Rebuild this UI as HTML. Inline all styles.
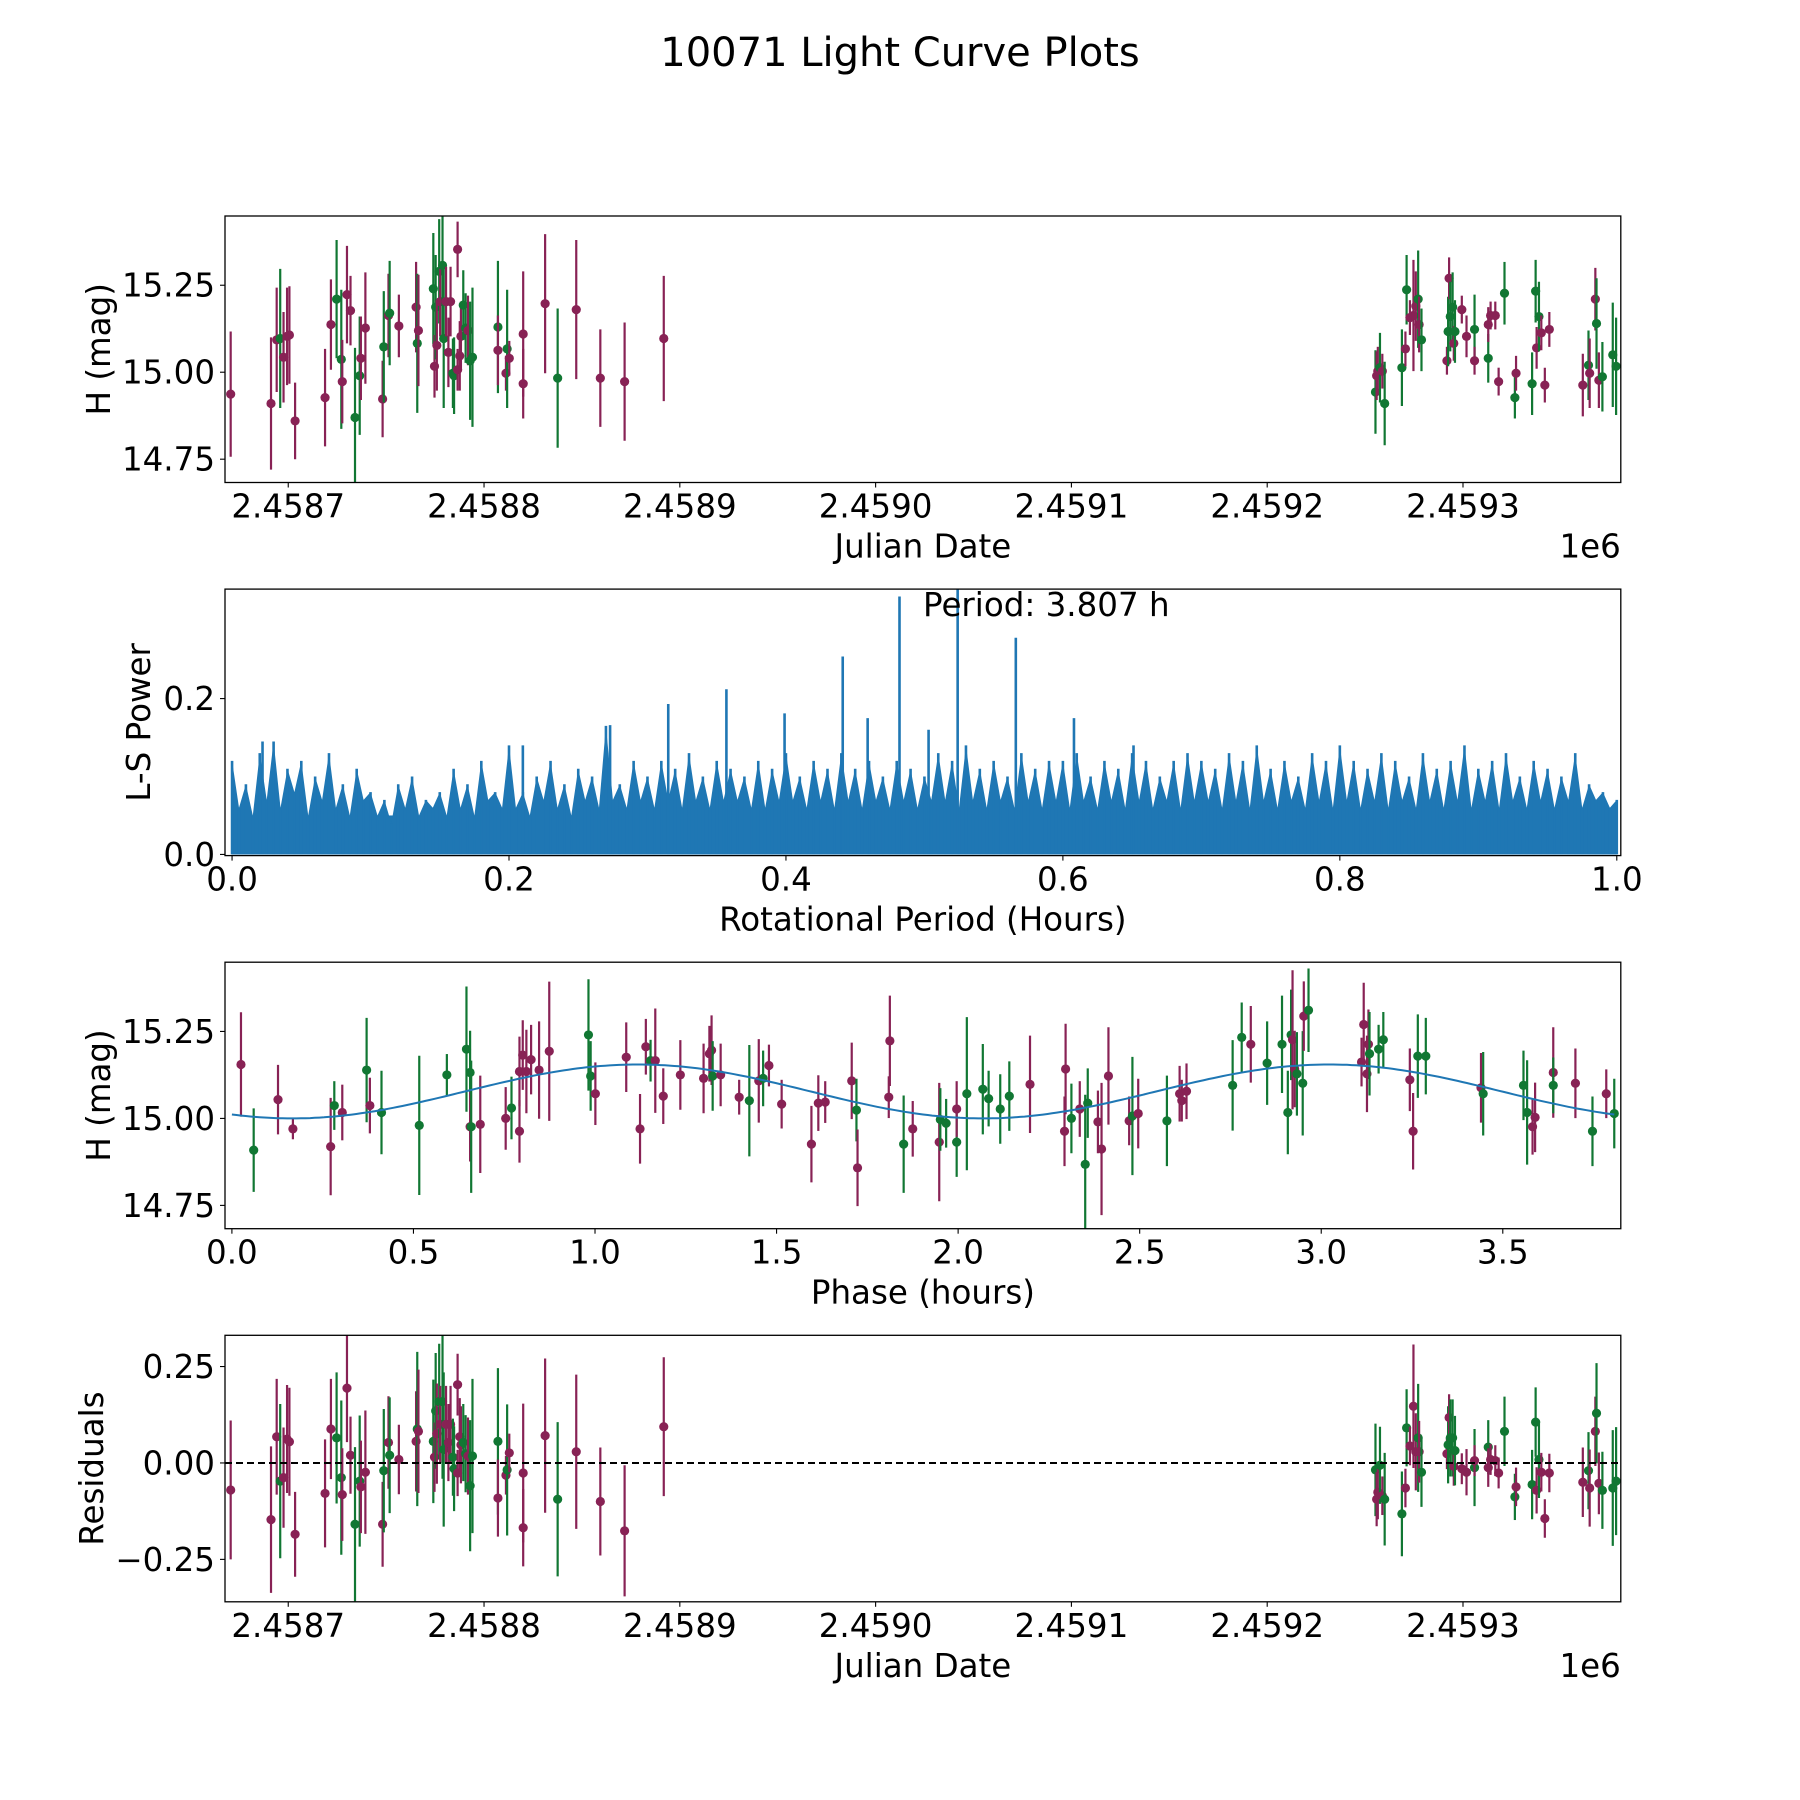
<!DOCTYPE html>
<html><head><meta charset="utf-8"><title>10071 Light Curve Plots</title>
<style>
html,body{margin:0;padding:0;background:#fff;}
svg{display:block;font-family:"DejaVu Sans","Liberation Sans",sans-serif;}
</style></head>
<body>
<svg id="fig" width="1800" height="1800" viewBox="0 0 1800 1800" xmlns="http://www.w3.org/2000/svg">
<rect x="0" y="0" width="1800" height="1800" fill="#fff"/>
<text x="900" y="66" font-size="40" text-anchor="middle" fill="#000">10071 Light Curve Plots</text>
</svg>
<script>
// ---------- data ----------
const JD_BASE = 2458700;
const jdOffset = [
-29.4,-8.8,-5.9,-4.1,-2.4,-0.6,0.6,3.5,18.8,21.8,
24.7,27.1,27.6,30,31.8,34.1,36.5,37.1,39.4,48.2,
48.8,51.2,51.8,56.5,65.3,65.9,66.5,74.1,74.7,75.3,
75.9,77.1,77.6,78.8,79.4,80.6,81.8,82.9,84.1,84.7,
86.5,86.5,87.6,88.2,89.4,90.6,91.8,92.9,94.1,107.1,
107.1,111.2,111.8,112.9,120,120,131.2,137.6,147.1,159.4,
171.8,191.8,555.3,555.9,556.5,557.6,558.8,560,568.8,570.6,
571.2,572.9,574.7,575.9,577.1,577.6,578.8,591.8,592.4,592.9,
593.5,594.7,595.3,595.9,599.4,601.8,605.9,605.9,612.9,612.9,
614.1,616.5,618.2,621.2,626.5,627.1,635.3,637.1,637.6,638.8,
640,641.8,644.1,661.2,664.1,664.7,667.6,668.2,669.4,671.2,
676.5,678.2];
const magH = [
14.937,14.91,15.093,15.097,15.043,15.103,15.107,14.86,14.927,15.137,
15.21,15.037,14.973,15.223,15.177,14.87,14.99,15.04,15.127,14.923,
15.073,15.163,15.17,15.133,15.187,15.083,15.12,15.24,15.017,15.187,
15.077,15.29,15.203,15.307,15.097,15.203,15.057,15.203,14.997,14.99,
15.353,15.007,15.047,15.103,15.193,15.127,15.12,15.033,15.043,15.13,
15.063,14.997,15.067,15.04,14.967,15.11,15.197,14.983,15.18,14.983,
14.973,15.097,14.943,14.99,15.003,15.013,15.003,14.91,15.013,15.067,
15.237,15.157,15.163,15.19,15.21,15.137,15.093,15.033,15.117,15.27,
15.16,15.187,15.083,15.117,15.18,15.103,15.123,15.033,15.04,15.137,
15.163,15.163,14.973,15.227,14.927,14.997,14.967,15.233,15.07,15.16,
15.113,14.963,15.123,14.963,15.02,14.997,15.21,15.14,14.977,14.987,
15.05,15.017];
const residuals = [
-0.07,-0.147,0.068,-0.047,-0.038,0.062,0.055,-0.185,-0.079,0.088,
0.065,-0.038,-0.082,0.194,0.02,-0.159,-0.047,-0.062,-0.024,-0.159,
-0.02,0.053,0.02,0.009,0.056,0.088,0.082,0.056,0.015,0.135,
0.076,0.159,0.1,0.159,0.035,0.1,0.053,0.1,0.015,-0.015,
0.203,-0.026,0.068,0.047,0.053,0.024,0.018,-0.059,0.018,0.056,
-0.091,-0.032,-0.018,0.026,-0.168,-0.026,0.071,-0.094,0.029,-0.1,
-0.176,0.094,-0.018,-0.094,-0.076,-0.006,-0.085,-0.094,-0.132,-0.065,
0.091,0.044,0.147,0.029,0.065,0.029,-0.024,0.024,0.047,0.118,
0.065,0.065,-0.009,0.032,-0.015,-0.024,-0.012,0.006,0.041,-0.012,
0.009,0.006,-0.026,0.082,-0.088,-0.062,-0.056,0.106,-0.071,0.009,
-0.024,-0.144,-0.026,-0.05,-0.02,-0.065,0.082,0.129,-0.053,-0.071,
-0.065,-0.047];
const magErr = [
.18,.19,.15,.2,.13,.14,.14,.11,.14,.13,
.17,.2,.12,.14,.1,.2,.17,.12,.16,.11,
.16,.12,.15,.09,.13,.2,.16,.16,.09,.15,
.13,.15,.1,.2,.2,.1,.1,.1,.1,.11,
.08,.06,.1,.1,.1,.1,.1,.17,.2,.19,
.1,.05,.17,.05,.1,.18,.2,.2,.2,.14,
.17,.18,.12,.07,.07,.1,.05,.12,.11,.05,
.1,.05,.16,.1,.14,.08,.09,.04,.1,.06,
.1,.1,.05,.09,.04,.06,.1,.04,.07,.05,
.04,.04,.04,.09,.06,.05,.09,.09,.06,.1,
.05,.05,.05,.09,.1,.1,.09,.13,.08,.1,
.15,.14];
const obsFilter = ("mmmgmmmmmm"+"ggmmmggmmm"+"gmgmmgmgmg"+"mgmggmmmgg"+"mmmmggmggg"+"mmgmmmmgmm"+
  "mmgmmgmggm"+"gmmmgmgmgm"+"ggmgmmgmgm"+"mmmggmggmg"+"mmmmgmmgmg"+"gg").split("");

const phaseHours = [
.025,.060,.127,.168,.272,.282,.304,.371,.380,.412,
.516,.592,.646,.656,.656,.659,.684,.754,.770,.792,
.792,.801,.811,.824,.846,.874,.982,.988,1.001,1.086,
1.124,1.140,1.153,1.166,1.188,1.235,1.299,1.315,1.321,1.324,
1.346,1.397,1.425,1.451,1.463,1.479,1.514,1.596,1.615,1.634,
1.707,1.720,1.723,1.809,1.812,1.850,1.875,1.948,1.951,1.967,
1.996,1.996,2.024,2.068,2.084,2.116,2.141,2.198,2.293,2.296,
2.312,2.335,2.350,2.357,2.385,2.395,2.414,2.471,2.480,2.496,
2.575,2.610,2.616,2.629,2.756,2.781,2.806,2.851,2.892,2.908,
2.917,2.921,2.927,2.933,2.949,2.952,2.965,3.111,3.117,3.126,
3.130,3.133,3.158,3.171,3.244,3.253,3.266,3.288,3.440,3.446,
3.557,3.567,3.582,3.589,3.639,3.639,3.700,3.747,3.785,3.807];
const phaseMag = [
15.155,14.909,15.054,14.970,14.919,15.037,15.017,15.139,15.037,15.017,
14.980,15.125,15.199,15.132,14.976,14.976,14.983,15.000,15.030,14.963,
15.135,15.182,15.135,15.169,15.139,15.193,15.240,15.122,15.071,15.176,
14.970,15.206,15.166,15.166,15.064,15.125,15.115,15.186,15.196,15.122,
15.125,15.061,15.051,15.108,15.115,15.152,15.041,14.926,15.044,15.047,
15.108,15.024,14.858,15.061,15.223,14.926,14.970,14.932,14.997,14.986,
14.932,15.027,15.071,15.084,15.057,15.027,15.064,15.098,14.963,15.142,
15.000,15.027,14.868,15.044,14.990,14.912,15.122,14.993,15.007,15.014,
14.993,15.071,15.051,15.078,15.095,15.233,15.213,15.159,15.213,15.017,
15.240,15.226,15.142,15.128,15.101,15.294,15.311,15.162,15.270,15.128,
15.213,15.186,15.199,15.226,15.111,14.963,15.179,15.179,15.088,15.071,
15.095,15.017,14.976,15.003,15.132,15.095,15.101,14.963,15.071,15.014];
const phaseErr = [
.15,.12,.1,.03,.14,.07,.08,.15,.08,.12,
.2,.06,.18,.12,.1,.19,.14,.09,.09,.09,
.1,.1,.12,.1,.14,.2,.16,.1,.09,.1,
.1,.08,.06,.15,.08,.1,.1,.08,.1,.1,
.09,.05,.16,.12,.08,.06,.07,.11,.08,.06,
.11,.09,.11,.06,.13,.14,.08,.17,.09,.07,
.1,.08,.22,.13,.08,.1,.1,.14,.1,.13,
.1,.08,.2,.1,.09,.19,.14,.07,.17,.1,
.13,.08,.06,.08,.13,.1,.11,.12,.14,.12,
.13,.2,.11,.12,.15,.1,.12,.07,.12,.11,
.1,.12,.07,.08,.09,.11,.12,.11,.1,.12,
.1,.15,.08,.1,.13,.08,.1,.1,.07,.1];
const phaseFilter = ("mgmmmgmgmg"+"ggggmgmmgm"+"mmmmmmggmm"+"mmgmmmmmmg"+"mmgmgmmmmm"+"mgmmmgmmgg"+
  "gmgggggmmm"+"gmggmmmmgm"+"gmmmggmggg"+"gmmggmgmmm"+"mgggmmggmg"+"ggmmmgmgmg").split("");

// fitted model: mean, amplitude, half-period (h), phase offset (h)
const modelMean = 15.0775, modelAmp = 0.0775, modelPeriod = 1.9035, modelT0 = 0.642, modelSpan = 3.807;

// periodogram
const lsPower = [
.12,.06,.09,.05,.13,.07,.145,.06,.11,.08,.12,.05,.10,.07,.13,.06,.09,.05,.11,.07,
.08,.05,.07,.04,.09,.06,.10,.05,.07,.06,.08,.05,.11,.06,.09,.05,.12,.07,.08,.06,
.14,.06,.08,.05,.10,.07,.12,.06,.09,.05,.11,.07,.10,.06,.165,.07,.09,.06,.12,.07,
.10,.06,.12,.07,.11,.06,.13,.07,.10,.06,.12,.07,.11,.07,.10,.06,.12,.06,.11,.07,
.13,.07,.10,.06,.12,.07,.11,.06,.13,.07,.11,.06,.12,.07,.10,.06,.12,.07,.11,.06,
.10,.07,.13,.07,.12,.06,.14,.07,.11,.06,.12,.07,.10,.06,.13,.07,.11,.06,.12,.07,
.12,.06,.13,.07,.10,.06,.12,.07,.11,.06,.13,.07,.12,.06,.10,.07,.12,.06,.13,.07,
.12,.07,.11,.06,.13,.07,.12,.06,.14,.07,.11,.06,.12,.07,.10,.06,.13,.07,.12,.06,
.14,.07,.12,.06,.11,.07,.13,.06,.12,.07,.10,.06,.13,.07,.11,.06,.12,.07,.14,.06,
.11,.07,.12,.06,.13,.07,.10,.06,.12,.07,.11,.06,.10,.07,.13,.06,.09,.07,.08,.06,.07];
const lsFloor = 0.05;
const peakPeriods = [0.022,0.21,0.273,0.315,0.357,0.399,0.441,0.459,0.482,0.503,0.524,0.566,0.608,0.651];
const peakPowers  = [0.145,0.14,0.166,0.193,0.212,0.181,0.254,0.175,0.331,0.16,0.36,0.278,0.175,0.14];
const periodLabel = "Period: 3.807 h";

const jdTicks = [2458700,2458800,2458900,2459000,2459100,2459200,2459300];
const jdTickLabels = ["2.4587","2.4588","2.4589","2.4590","2.4591","2.4592","2.4593"];
const magTicks = [14.75,15.00,15.25];
const magTickLabels = ["14.75","15.00","15.25"];
const lsXTicks = [0,0.2,0.4,0.6,0.8,1.0];
const lsXTickLabels = ["0.0","0.2","0.4","0.6","0.8","1.0"];
const lsYTicks = [0,0.2];
const lsYTickLabels = ["0.0","0.2"];
const phTicks = [0,0.5,1,1.5,2,2.5,3,3.5];
const phTickLabels = ["0.0","0.5","1.0","1.5","2.0","2.5","3.0","3.5"];
const resTicks = [-0.25,0,0.25];
const resTickLabels = ["\u22120.25","0.00","0.25"];

// ---------- rendering ----------
const NS = "http://www.w3.org/2000/svg";
const svg = document.getElementById("fig");
const COL = {m:"#882255", g:"#117733"};
const L = 225, R = 1620.8, H = 266.5;
const TOPS = [216, 589.1, 962.2, 1335.3];
function mk(tag, parent){ const e = document.createElementNS(NS, tag); parent.appendChild(e); return e; }
function lin(d0,d1,p0,p1){ return v => p0 + (v-d0)/(d1-d0)*(p1-p0); }

function axesFrame(idx, name, sx, sy, xt, xtl, yt, ytl, xlabel, ylabel, ylabelX){
  const top = TOPS[idx], bot = top + H;
  const g = mk("g", svg);
  
  
  const cp = mk("clipPath", g); cp.setAttribute("id", "clip"+idx);
  const cr = mk("rect", cp);
  cr.setAttribute("x", L); cr.setAttribute("y", top); cr.setAttribute("width", R-L); cr.setAttribute("height", H);
  const plot = mk("g", g);
  plot.setAttribute("clip-path", "url(#clip"+idx+")");
  
  
  const xg = mk("g", g);
  
  
  xt.forEach((v,i)=>{
    const x = sx(v);
    const t = mk("line", xg);
    t.setAttribute("x1",x); t.setAttribute("x2",x); t.setAttribute("y1",bot); t.setAttribute("y2",bot+5);
    t.setAttribute("stroke","#000"); t.setAttribute("stroke-width","1.1");
    const tx = mk("text", xg);
    
    
    tx.setAttribute("x",x); tx.setAttribute("y",bot+35); tx.setAttribute("font-size","32.5"); tx.setAttribute("text-anchor","middle");
    tx.textContent = xtl[i];
  });
  const yg = mk("g", g);
  
  
  yt.forEach((v,i)=>{
    const y = sy(v);
    const t = mk("line", yg);
    t.setAttribute("x1",L-5); t.setAttribute("x2",L); t.setAttribute("y1",y); t.setAttribute("y2",y);
    t.setAttribute("stroke","#000"); t.setAttribute("stroke-width","1.1");
    const tx = mk("text", yg);
    
    
    tx.setAttribute("x",L-10); tx.setAttribute("y",y+11.5); tx.setAttribute("font-size","32.5"); tx.setAttribute("text-anchor","end");
    tx.textContent = ytl[i];
  });
  const xl = mk("text", g);
  
  
  xl.setAttribute("x",(L+R)/2); xl.setAttribute("y",bot+75); xl.setAttribute("font-size","32.5"); xl.setAttribute("text-anchor","middle");
  xl.textContent = xlabel;
  const yl = mk("text", g);
  
  
  const cy = top + H/2;
  yl.setAttribute("x",ylabelX); yl.setAttribute("y",cy); yl.setAttribute("font-size","32.5"); yl.setAttribute("text-anchor","middle");
  yl.setAttribute("dominant-baseline","central");
  yl.setAttribute("transform","rotate(-90 "+ylabelX+" "+cy+")");
  yl.textContent = ylabel;
  return {g, plot, top, bot};
}
function frameBox(ax){
  const b = mk("rect", ax.g);
  
  
  b.setAttribute("x",L); b.setAttribute("y",ax.top); b.setAttribute("width",R-L); b.setAttribute("height",H);
  b.setAttribute("fill","none"); b.setAttribute("stroke","#000"); b.setAttribute("stroke-width","1.3");
}
function errPoint(parent, x, y, y1, y2, c){
  const l = mk("line", parent);
  
  
  l.setAttribute("x1",x); l.setAttribute("x2",x); l.setAttribute("y1",y1); l.setAttribute("y2",y2);
  l.setAttribute("stroke",c); l.setAttribute("stroke-width","2.2");
  const p = mk("circle", parent);
  
  
  p.setAttribute("cx",x); p.setAttribute("cy",y); p.setAttribute("r","4.6"); p.setAttribute("fill",c);
}
function offLabel(ax){
  const t = mk("text", ax.g);
  
  
  t.setAttribute("x",R); t.setAttribute("y",ax.bot+75); t.setAttribute("font-size","32.5"); t.setAttribute("text-anchor","end");
  t.textContent = "1e6";
}

const jdMin = JD_BASE-32.3, jdMax = JD_BASE+680.6;
const magMin = 14.683, magMax = 15.449;
// Panel 1
{
  const sx = lin(jdMin, jdMax, L, R), sy = lin(magMin, magMax, TOPS[0]+H, TOPS[0]);
  const ax = axesFrame(0, "light-curve-panel", sx, sy, jdTicks, jdTickLabels, magTicks, magTickLabels, "Julian Date", "H (mag)", 99);
  jdOffset.forEach((d,i)=>{
    const x = sx(JD_BASE+d);
    errPoint(ax.plot, x, sy(magH[i]), sy(magH[i]+magErr[i]), sy(magH[i]-magErr[i]), COL[obsFilter[i]]);
  });
  frameBox(ax); offLabel(ax);
}
// Panel 2: periodogram
{
  const sx = lin(-0.0051, 1.0029, L, R), sy = lin(-0.0015, 0.3405, TOPS[1]+H, TOPS[1]);
  const ax = axesFrame(1, "periodogram-panel", sx, sy, lsXTicks, lsXTickLabels, lsYTicks, lsYTickLabels, "Rotational Period (Hours)", "L-S Power", 139);
  const fl = mk("rect", ax.plot);
  
  
  fl.setAttribute("x",sx(0)); fl.setAttribute("width",sx(1)-sx(0));
  fl.setAttribute("y",sy(lsFloor)); fl.setAttribute("height",sy(0)-sy(lsFloor)); fl.setAttribute("fill","#1f77b4");
  const n = lsPower.length;
  let pts = [];
  lsPower.forEach((p,i)=>{ pts.push(sx(i/(n-1)).toFixed(1)+","+sy(p).toFixed(1)); });
  const area = mk("polygon", ax.plot);
  
  
  area.setAttribute("points", sx(0)+","+sy(0)+" "+pts.join(" ")+" "+sx(1)+","+sy(0));
  area.setAttribute("fill","#1f77b4");
  lsPower.forEach((p,i)=>{
    const x = sx(i/(n-1));
    const l = mk("line", ax.plot);
    
    
    l.setAttribute("x1",x); l.setAttribute("x2",x); l.setAttribute("y1",sy(0)); l.setAttribute("y2",sy(p));
    l.setAttribute("stroke","#1f77b4"); l.setAttribute("stroke-width","2.6");
  });
  peakPeriods.forEach((p,i)=>{
    const l = mk("line", ax.plot);
    
    
    l.setAttribute("x1",sx(p)); l.setAttribute("x2",sx(p)); l.setAttribute("y1",sy(0)); l.setAttribute("y2",sy(peakPowers[i]));
    l.setAttribute("stroke","#1f77b4"); l.setAttribute("stroke-width","2.6");
  });
  const pt = mk("text", ax.g);
  
  
  pt.setAttribute("x",923); pt.setAttribute("y",616); pt.setAttribute("font-size","32.5");
  pt.textContent = periodLabel;
  frameBox(ax);
}
// Panel 3
{
  const sx = lin(-0.019, 3.825, L, R), sy = lin(magMin, magMax, TOPS[2]+H, TOPS[2]);
  const ax = axesFrame(2, "phase-panel", sx, sy, phTicks, phTickLabels, magTicks, magTickLabels, "Phase (hours)", "H (mag)", 99);
  phaseHours.forEach((p,i)=>{
    errPoint(ax.plot, sx(p), sy(phaseMag[i]), sy(phaseMag[i]+phaseErr[i]), sy(phaseMag[i]-phaseErr[i]), COL[phaseFilter[i]]);
  });
  let mp = [];
  for(let k=0;k<=300;k++){
    const t = modelSpan*k/300;
    const m = modelMean + modelAmp*Math.sin(2*Math.PI*(t-modelT0)/modelPeriod);
    mp.push(sx(t).toFixed(1)+","+sy(m).toFixed(1));
  }
  const ml = mk("polyline", ax.plot);
  
  
  ml.setAttribute("points", mp.join(" "));
  ml.setAttribute("fill","none"); ml.setAttribute("stroke","#1f77b4"); ml.setAttribute("stroke-width","2");
  frameBox(ax);
}
// Panel 4
{
  const sx = lin(jdMin, jdMax, L, R), sy = lin(-0.36, 0.331, TOPS[3]+H, TOPS[3]);
  const ax = axesFrame(3, "residuals-panel", sx, sy, jdTicks, jdTickLabels, resTicks, resTickLabels, "Julian Date", "Residuals", 92);
  jdOffset.forEach((d,i)=>{
    const x = sx(JD_BASE+d);
    errPoint(ax.plot, x, sy(residuals[i]), sy(residuals[i]+magErr[i]), sy(residuals[i]-magErr[i]), COL[obsFilter[i]]);
  });
  const z = mk("line", ax.plot);
  
  
  z.setAttribute("x1",L); z.setAttribute("x2",R); z.setAttribute("y1",sy(0)); z.setAttribute("y2",sy(0));
  z.setAttribute("stroke","#000"); z.setAttribute("stroke-width","2"); z.setAttribute("stroke-dasharray","7,4");
  frameBox(ax); offLabel(ax);
}
</script>
</body></html>
